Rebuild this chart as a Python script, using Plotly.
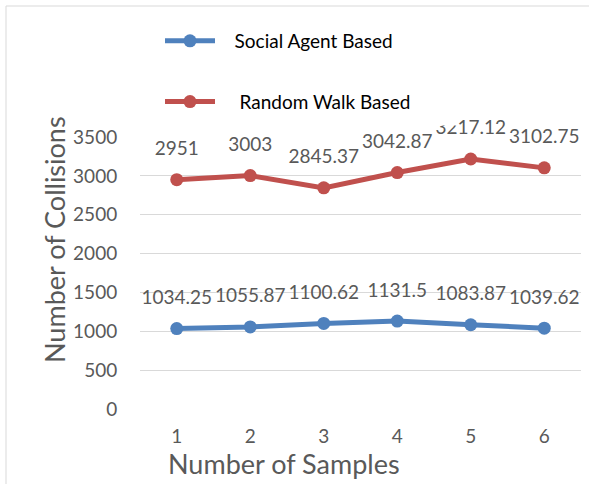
import plotly.graph_objects as go

samples = [1, 2, 3, 4, 5, 6]
social_agent = [1034.25, 1055.87, 1100.62, 1131.5, 1083.87, 1039.62]
random_walk = [2951, 3003, 2845.37, 3042.87, 3217.12, 3102.75]
y_ticks = [0, 500, 1000, 1500, 2000, 2500, 3000, 3500]

BLUE = "#4F81BD"
RED = "#C0504D"
GRAY = "#595959"
GRID = "#D9D9D9"
FONT = "Lato"
NB = "\u00a0"

fig = go.Figure()

series = [("Social Agent Based", social_agent, BLUE, "g1", 3),
          ("Random Walk Based", random_walk, RED, "g2", 4)]

for name, vals, color, grp, pad in series:
    fig.add_trace(go.Scatter(
        x=samples, y=vals, name=NB * pad + name, mode="lines+markers",
        line=dict(color=color, width=5),
        marker=dict(color=color, size=13),
        legendgroup=grp,
    ))

for name, vals, color, grp, pad in series:
    fig.add_trace(go.Scatter(
        x=samples, y=vals, mode="markers+text",
        text=[f"{v:g}" for v in vals],
        textposition="top center",
        textfont=dict(family=FONT, size=19, color=GRAY),
        marker=dict(size=30, color="rgba(0,0,0,0)"),
        showlegend=False, hoverinfo="skip", cliponaxis=False,
    ))

L, R, T, B = 140, 8, 137, 75
W, H = 589, 484
pw = W - L - R
ph = H - T - B

def px_x(p):
    return (p - L) / pw

def px_y(p):
    return (H - B - p) / ph

# legend box area (white) hides the top of the highest label, as in the source
fig.add_shape(type="rect", xref="paper", yref="paper", layer="above",
              x0=px_x(420), x1=px_x(457), y0=px_y(125.5), y1=px_y(100),
              line=dict(width=0), fillcolor="white")

fig.add_shape(type="rect", xref="paper", yref="paper",
              x0=px_x(6), x1=px_x(600), y0=px_y(495), y1=px_y(6),
              line=dict(color=GRID, width=1), fillcolor="rgba(0,0,0,0)")

fig.add_annotation(text="Number of Collisions", xref="paper", yref="paper",
                   x=px_x(54), y=px_y(240), textangle=-90, showarrow=False,
                   font=dict(family=FONT, size=27, color=GRAY),
                   xanchor="center", yanchor="middle")
fig.add_annotation(text="Number of Samples", xref="paper", yref="paper",
                   x=px_x(284), y=px_y(463), showarrow=False,
                   font=dict(family=FONT, size=27, color=GRAY),
                   xanchor="center", yanchor="middle")

fig.update_layout(
    width=W, height=H,
    margin=dict(l=L, r=R, t=T, b=B, pad=0),
    paper_bgcolor="white", plot_bgcolor="white",
    font=dict(family=FONT, color=GRAY),
    legend=dict(
        x=px_x(160), y=px_y(22), xanchor="left", yanchor="top",
        font=dict(family=FONT, size=19, color="black"),
        traceorder="grouped", tracegroupgap=33,
        bgcolor="rgba(0,0,0,0)", itemwidth=50,
    ),
    xaxis=dict(
        range=[0.5, 6.5], tickvals=samples, ticktext=[str(s) for s in samples],
        showgrid=False, zeroline=False, showline=False,
        ticks="outside", ticklen=10, tickcolor="rgba(0,0,0,0)",
        tickfont=dict(family=FONT, size=19, color=GRAY),
    ),
    yaxis=dict(
        range=[0, 3500], tickvals=y_ticks,
        showgrid=True, gridcolor=GRID, gridwidth=1,
        zeroline=False, showline=False,
        ticks="outside", ticklen=18, tickcolor="rgba(0,0,0,0)",
        tickfont=dict(family=FONT, size=19, color=GRAY),
    ),
)

fig.write_html("out.html", config={"displayModeBar": False},
               post_script="document.body.style.margin='0px';document.body.style.overflow='hidden';")
